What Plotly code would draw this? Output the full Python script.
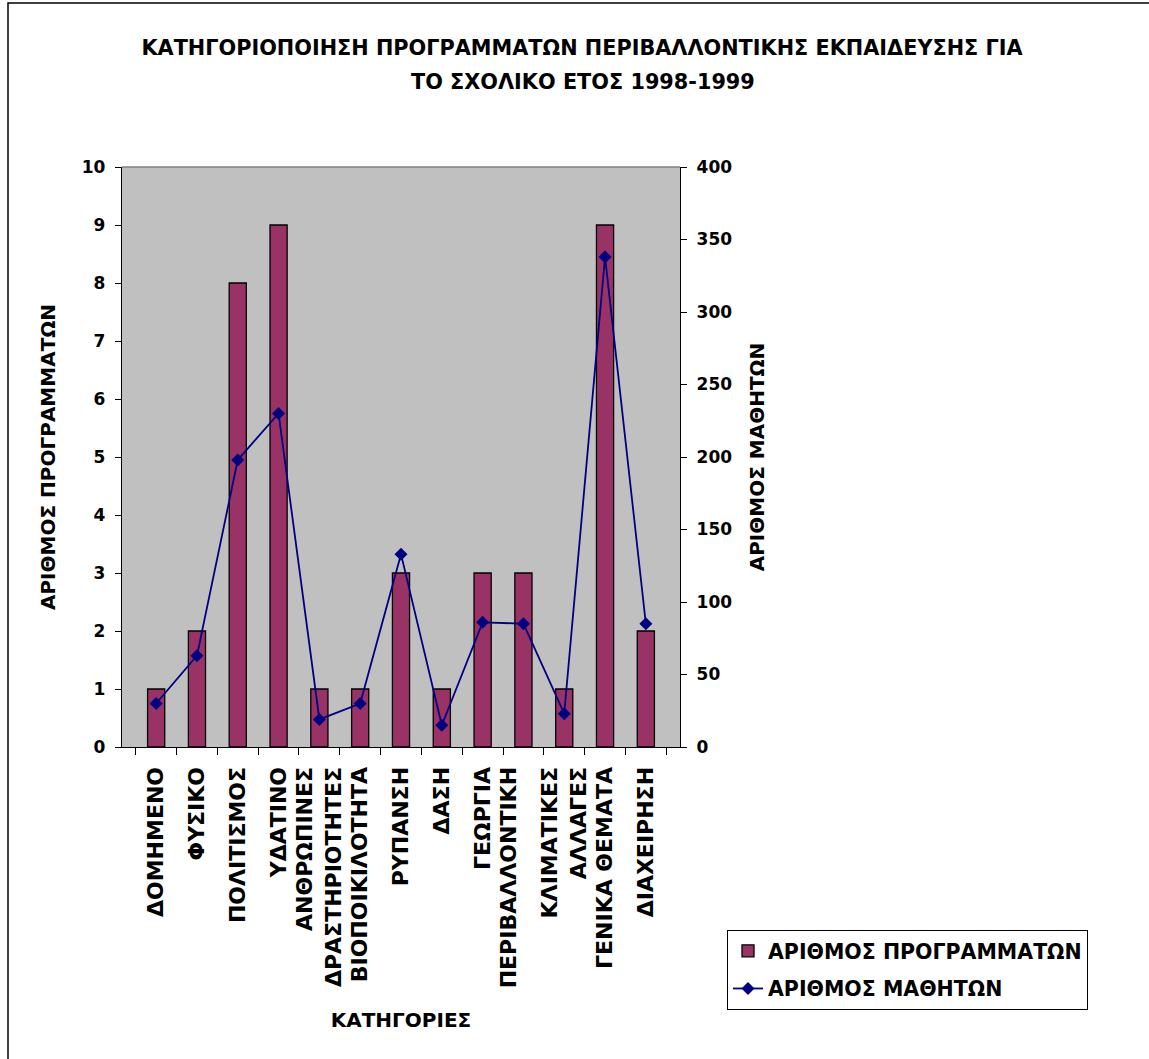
import plotly.graph_objects as go

categories = ["ΔΟΜΗΜΕΝΟ", "ΦΥΣΙΚΟ", "ΠΟΛΙΤΙΣΜΟΣ", "ΥΔΑΤΙΝΟ",
              "ΑΝΘΡΩΠΙΝΕΣ<br>ΔΡΑΣΤΗΡΙΟΤΗΤΕΣ", "ΒΙΟΠΟΙΚΙΛΟΤΗΤΑ", "ΡΥΠΑΝΣΗ",
              "ΔΑΣΗ", "ΓΕΩΡΓΙΑ", "ΠΕΡΙΒΑΛΛΟΝΤΙΚΗ<br>\u00a0",
              "ΚΛΙΜΑΤΙΚΕΣ<br>ΑΛΛΑΓΕΣ", "ΓΕΝΙΚΑ ΘΕΜΑΤΑ", "ΔΙΑΧΕΙΡΗΣΗ"]
programmes = [1, 2, 8, 9, 1, 1, 3, 1, 3, 3, 1, 9, 2]
students = [30, 63, 198, 230, 19, 30, 133, 15, 86, 85, 23, 338, 85]
title_lines = ["ΚΑΤΗΓΟΡΙΟΠΟΙΗΣΗ ΠΡΟΓΡΑΜΜΑΤΩΝ ΠΕΡΙΒΑΛΛΟΝΤΙΚΗΣ ΕΚΠΑΙΔΕΥΣΗΣ ΓΙΑ",
               "ΤΟ ΣΧΟΛΙΚΟ ΕΤΟΣ 1998-1999"]

FONT = "DejaVu Sans"
W, H = 1149, 1059
ML, MR, MT, MB = 122, W - 680, 167, H - 747
PW, PH = W - ML - MR, H - MT - MB


def px_x(p):
    return (p - ML) / PW


def px_y(p):
    return (H - MB - p) / PH


fig = go.Figure()
fig.add_trace(go.Bar(
    x=categories, y=programmes, name="ΑΡΙΘΜΟΣ ΠΡΟΓΡΑΜΜΑΤΩΝ",
    marker=dict(color="#993366", line=dict(color="black", width=1.3)),
    width=0.42, legendgroup="a"))
fig.add_trace(go.Scatter(
    x=categories, y=students, name="ΑΡΙΘΜΟΣ ΜΑΘΗΤΩΝ", yaxis="y2",
    mode="lines+markers", line=dict(color="#000080", width=1.8),
    marker=dict(symbol="diamond", size=10, color="#000080"),
    legendgroup="b"))

axis_font = dict(family=FONT, size=17, color="black")
fig.update_layout(
    width=W, height=H,
    margin=dict(l=ML, r=MR, t=MT, b=MB, autoexpand=False),
    paper_bgcolor="white", plot_bgcolor="#C0C0C0",
    font=dict(family=FONT, color="black"),
    title=dict(text="<b>" + title_lines[0] + "</b>",
               x=582 / W, xanchor="center", y=1 - 48 / H, yanchor="middle",
               font=dict(family=FONT, size=20.8, color="black")),
    annotations=[dict(text="<b>" + title_lines[1] + "</b>", xref="paper", yref="paper",
                      x=px_x(583), y=px_y(82), xanchor="center", yanchor="middle",
                      showarrow=False, font=dict(family=FONT, size=20.8, color="black"))],
    xaxis=dict(
        title=dict(text="<b>ΚΑΤΗΓΟΡΙΕΣ</b>", font=dict(family=FONT, size=20), standoff=25),
        tickangle=-90, tickfont=dict(family=FONT, size=22, color="black", weight="bold"),
        ticks="outside", tickson="boundaries", ticklen=7, tickcolor="black",
        showline=True, linecolor="black", linewidth=1.3, showgrid=False,
        ticklabelstandoff=10, mirror=False),
    yaxis=dict(
        range=[0, 10], dtick=1, title=dict(text="<b>ΑΡΙΘΜΟΣ ΠΡΟΓΡΑΜΜΑΤΩΝ</b>",
                                            font=dict(family=FONT, size=20), standoff=20),
        tickfont=dict(axis_font, weight="bold"), ticks="outside", ticklen=6,
        tickcolor="black", showline=True, linecolor="black", linewidth=1.3,
        showgrid=False, zeroline=False, ticklabelstandoff=6),
    yaxis2=dict(
        range=[0, 400], dtick=50, overlaying="y", side="right",
        title=dict(text="<b>ΑΡΙΘΜΟΣ ΜΑΘΗΤΩΝ</b>", font=dict(family=FONT, size=20), standoff=18),
        tickfont=dict(axis_font, weight="bold"), ticks="outside", ticklen=6,
        tickcolor="black", showline=True, linecolor="black", linewidth=1.3,
        showgrid=False, zeroline=False, ticklabelstandoff=6),
    legend=dict(x=px_x(727), y=px_y(930), xanchor="left", yanchor="top",
                bgcolor="white", bordercolor="black", borderwidth=1,
                font=dict(family=FONT, size=20.5, color="black", weight="bold"),
                tracegroupgap=8, traceorder="grouped"),
    showlegend=True,
    bargap=0.5,
    shapes=[
        dict(type="line", xref="paper", yref="paper", x0=0, x1=1, y0=1, y1=1,
             line=dict(color="#808080", width=1.3)),
        dict(type="rect", xref="paper", yref="paper", x0=px_x(8), x1=px_x(1200),
             y0=px_y(3), y1=px_y(1100), line=dict(color="black", width=1.5),
             fillcolor="rgba(0,0,0,0)", layer="below"),
    ],
)

fig.write_html("out.html", config={"displayModeBar": False},
               post_script="document.body.style.margin='0';document.body.style.padding='0';")
